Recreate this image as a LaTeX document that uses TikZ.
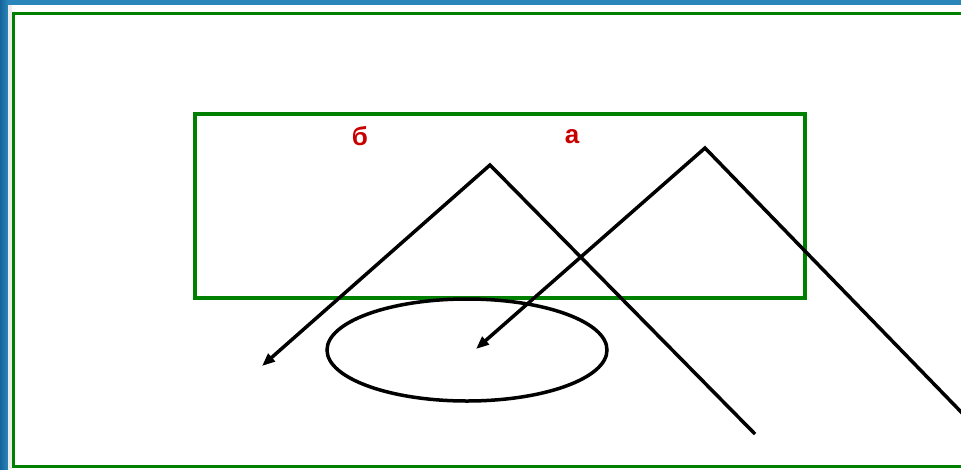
\documentclass[tikz,border=0pt]{standalone}
\usepackage{fontspec}
\setmainfont{Liberation Sans}
\usepackage{xcolor}
\usetikzlibrary{arrows.meta,positioning,calc}
\definecolor{frameblue}{RGB}{42,134,186}
\definecolor{frameblueD}{RGB}{22,100,156}
\definecolor{boxgreen}{RGB}{0,128,0}
\definecolor{lblred}{RGB}{200,0,0}

\begin{document}
\begin{tikzpicture}[x=1pt,y=-1pt,>={Triangle[length=13pt,width=10pt]},
  ray/.style={line width=3.5pt,line join=miter},
  gbox/.style={draw=boxgreen,line width=3.5pt},
  lbl/.style={font=\fontsize{26}{26}\selectfont\bfseries,text=lblred,inner sep=0pt}]
  \useasboundingbox (0,0) rectangle (961,469);
  % slide frame
  \fill[frameblue] (0,0) rectangle (961,5);
  \fill[left color=frameblueD,right color=frameblue] (0,0) rectangle (8,469);
  \fill[gray!15] (8,5) rectangle (12,469);
  \draw[gbox] (13.5,13.5) rectangle (975,466.5);
  % inner box and labels
  \draw[gbox] (195,114) rectangle (805,298);
  \node[lbl] (b) at (360,136) {б};
  \node[lbl] (a) at (572,137) {а};
  % ellipse
  \draw[ray] (467,350) ellipse [x radius=140,y radius=51];
  % rays
  \coordinate (p1) at (755,434);
  \coordinate (t1) at (490,165);
  \coordinate (e1) at (262,366);
  \coordinate (p2) at (965,416);
  \coordinate (t2) at (705,148);
  \coordinate (e2) at (476,349);
  \draw[ray,->] (p1) -- (t1) -- (e1);
  \draw[ray,->] (p2) -- (t2) -- (e2);
\end{tikzpicture}
\end{document}
